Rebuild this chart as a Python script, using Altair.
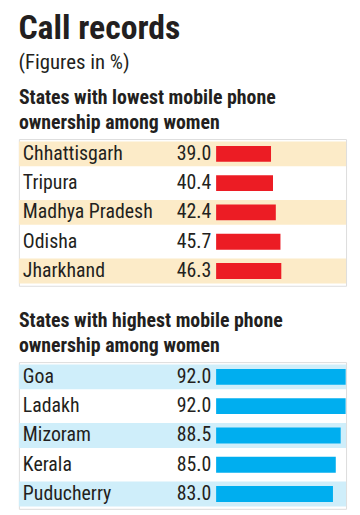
import altair as alt
import pandas as pd

title_text = "Call records"
subtitle_text = "(Figures in %)"

low_heading = ["States with lowest mobile phone", "ownership among women"]
low_states = ["Chhattisgarh", "Tripura", "Madhya Pradesh", "Odisha", "Jharkhand"]
low_values = [39.0, 40.4, 42.4, 45.7, 46.3]

high_heading = ["States with highest mobile phone", "ownership among women"]
high_states = ["Goa", "Ladakh", "Mizoram", "Kerala", "Puducherry"]
high_values = [92.0, 92.0, 88.5, 85.0, 83.0]

shaded = [1, 0, 1, 0, 1]

FONT = "Liberation Sans Narrow, Roboto Condensed, DejaVu Sans Condensed, sans-serif"
W = 330
H = 148


def section(states, values, heading, bar_color, band_color):
    df = pd.DataFrame({"state": states, "value": values, "shade": shaded})
    df["label"] = df["value"].map(lambda v: f"{v:.1f}")
    y = alt.Y("state:N", sort=states, axis=None,
              scale=alt.Scale(paddingInner=0.15, paddingOuter=0.08))
    xs = alt.Scale(domain=[-140.1, 92.3], nice=False, zero=False)
    base = alt.Chart(df)
    band = base.transform_filter("datum.shade == 1").mark_rect(color=band_color).encode(
        y=y, x=alt.value(0), x2=alt.value(W))
    bar = base.mark_bar(color=bar_color, size=16).encode(
        y=y, x=alt.X("value:Q", scale=xs, axis=None), x2=alt.datum(0))
    name = base.mark_text(align="left", baseline="middle", font=FONT, fontSize=20,
                          color="#231f20").encode(y=y, x=alt.value(4), text="state:N")
    val = base.mark_text(align="right", baseline="middle", font=FONT, fontSize=20,
                         color="#231f20").encode(y=y, x=alt.value(194), text="label:N")
    return alt.layer(band, bar, name, val).properties(
        width=W, height=H,
        title=alt.TitleParams(heading, anchor="start", font=FONT, fontSize=20,
                              fontWeight="bold", color="#231f20", lineHeight=25,
                              offset=6))


chart = alt.vconcat(
    section(low_states, low_values, low_heading, "#ec1c24", "#fcebc8"),
    section(high_states, high_values, high_heading, "#00aeef", "#cfeefa"),
    spacing=24,
).properties(
    title=alt.TitleParams(title_text, subtitle=subtitle_text, anchor="start",
                          font=FONT, fontSize=34, fontWeight="bold", color="#231f20",
                          subtitleFont=FONT, subtitleFontSize=21, subtitleColor="#231f20",
                          subtitlePadding=6, offset=15),
    padding={"left": 10, "top": 2, "right": 5, "bottom": 0},
).configure_view(stroke=None).configure(background="white")

chart.save("out.html", embed_options={"renderer": "svg", "actions": False})
